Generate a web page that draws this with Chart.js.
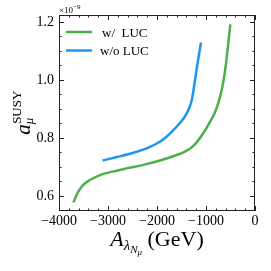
<!DOCTYPE html>
<html lang="en">
<head>
    <meta charset="UTF-8">
    <title>a_mu SUSY vs A_lambda</title>
    <script src="https://cdn.jsdelivr.net/npm/chart.js"></script>
    <style>
        body {
            margin: 0;
            padding: 0;
            background: #fff;
        }
        canvas {
            display: block;
        }
    </style>
</head>
<body>
    <canvas id="chart" width="271" height="271"></canvas>

    <script>
        // w/ LUC (green)
        const withLucX = [-3708, -3606, -3504, -3367, -3163, -2959, -2618, -2279, -1939, -1598, -1420, -1280, -1170, -1050, -930, -820, -740, -680, -635, -590, -545, -504];
        const withLucY = [0.577, 0.615, 0.638, 0.655, 0.672, 0.682, 0.695, 0.707, 0.722, 0.741, 0.754, 0.769, 0.789, 0.818, 0.852, 0.887, 0.925, 0.965, 1.005, 1.06, 1.125, 1.192];

        // w/o LUC (blue)
        const noLucX = [-3110, -2820, -2480, -2210, -1950, -1800, -1670, -1550, -1430, -1350, -1290, -1224, -1165, -1102];
        const noLucY = [0.722, 0.734, 0.749, 0.764, 0.786, 0.805, 0.826, 0.848, 0.874, 0.900, 0.931, 1.0, 1.065, 1.129];

        const seriesLabels = ['w/  LUC', 'w/o LUC'];
        const seriesColors = ['#4cb04a', '#1e96f0'];

        const xTicks = [-4000, -3000, -2000, -1000, 0];
        const yTicks = [0.6, 0.8, 1.0, 1.2];
        const xMinorStep = 200;
        const yMinorStep = 0.05;

        const serif = "'Liberation Serif', 'DejaVu Serif', serif";

        function toPoints(xs, ys) {
            return xs.map((x, i) => ({ x: x, y: ys[i] }));
        }

        // inward ticks on all four sides + full frame
        const frameTicks = {
            id: 'frameTicks',
            afterDraw(chart) {
                const { ctx, chartArea: a, scales } = chart;
                const xs = scales.x, ys = scales.y;
                ctx.save();
                ctx.strokeStyle = '#222';
                ctx.lineWidth = 1;
                ctx.strokeRect(a.left + 0.5, a.top + 0.5, a.right - a.left - 1, a.bottom - a.top - 1);
                ctx.beginPath();
                for (let v = xs.min; v <= xs.max + 1e-6; v += xMinorStep) {
                    const px = Math.round(xs.getPixelForValue(v)) + 0.5;
                    const major = xTicks.some(t => Math.abs(t - v) < 1e-6);
                    const len = major ? 5 : 2.5;
                    ctx.moveTo(px, a.bottom); ctx.lineTo(px, a.bottom - len);
                    ctx.moveTo(px, a.top); ctx.lineTo(px, a.top + len);
                }
                const yStart = Math.ceil(ys.min / yMinorStep - 1e-6) * yMinorStep;
                for (let v = yStart; v <= ys.max + 1e-6; v += yMinorStep) {
                    const py = Math.round(ys.getPixelForValue(v)) + 0.5;
                    const major = yTicks.some(t => Math.abs(t - v) < 1e-6);
                    const len = major ? 5 : 2.5;
                    ctx.moveTo(a.left, py); ctx.lineTo(a.left + len, py);
                    ctx.moveTo(a.right, py); ctx.lineTo(a.right - len, py);
                }
                ctx.stroke();
                ctx.restore();
            }
        };

        // legend, axis titles and offset text
        const labelsPlugin = {
            id: 'labelsPlugin',
            afterDraw(chart) {
                const { ctx, chartArea: a } = chart;
                ctx.save();
                ctx.fillStyle = '#000';
                ctx.textBaseline = 'alphabetic';

                // legend
                chart.data.datasets.forEach((ds, i) => {
                    const y = a.top + 17 + i * 18.5;
                    ctx.strokeStyle = ds.borderColor;
                    ctx.lineWidth = 2.5;
                    ctx.beginPath();
                    ctx.moveTo(a.left + 7, y);
                    ctx.lineTo(a.left + 33, y);
                    ctx.stroke();
                    ctx.font = '13px ' + serif;
                    ctx.textAlign = 'left';
                    ctx.fillText(ds.label, a.left + (i === 0 ? 43 : 41), y + 4.5);
                });

                // offset text  x10^-9
                ctx.font = '9px ' + serif;
                ctx.fillText('\u00d710', a.left, 13);
                const w10 = ctx.measureText('\u00d710').width;
                ctx.font = '7px ' + serif;
                ctx.fillText('\u22129', a.left + w10, 9);

                // x title:  A_{lambda_{N_mu}} (GeV)
                const parts = [
                    { t: 'A', f: 'italic 22px ', dy: 0 },
                    { t: '\u03bb', f: 'italic 15px ', dy: 4 },
                    { t: 'N', f: 'italic 11px ', dy: 7 },
                    { t: '\u03bc', f: 'italic 9px ', dy: 9 },
                    { t: ' (GeV)', f: '22px ', dy: 0 }
                ];
                let total = 0;
                parts.forEach(p => { ctx.font = p.f + serif; p.w = ctx.measureText(p.t).width; total += p.w; });
                let x = (a.left + a.right) / 2 - total / 2;
                const base = 246;
                parts.forEach(p => {
                    ctx.font = p.f + serif;
                    ctx.fillText(p.t, x, base + p.dy);
                    x += p.w;
                });

                // y title:  a_mu^SUSY (rotated)
                ctx.translate(30, (a.top + a.bottom) / 2);
                ctx.rotate(-Math.PI / 2);
                ctx.font = 'italic 21px ' + serif;
                const wa = ctx.measureText('a').width;
                ctx.font = '13px ' + serif;
                const ws = ctx.measureText('SUSY').width;
                const start = -(wa + ws) / 2;
                ctx.font = 'italic 21px ' + serif;
                ctx.fillText('a', start, 0);
                ctx.font = '13px ' + serif;
                ctx.fillText('SUSY', start + wa + 0.5, -9);
                ctx.font = 'italic 13px ' + serif;
                ctx.fillText('\u03bc', start + wa, 2.5);
                ctx.restore();
            }
        };

        new Chart(document.getElementById('chart'), {
            type: 'line',
            data: {
                datasets: [
                    {
                        label: seriesLabels[0],
                        data: toPoints(withLucX, withLucY),
                        borderColor: seriesColors[0],
                        borderWidth: 2.5,
                        pointRadius: 0,
                        cubicInterpolationMode: 'monotone',
                        fill: false
                    },
                    {
                        label: seriesLabels[1],
                        data: toPoints(noLucX, noLucY),
                        borderColor: seriesColors[1],
                        borderWidth: 2.5,
                        pointRadius: 0,
                        cubicInterpolationMode: 'monotone',
                        fill: false
                    }
                ]
            },
            options: {
                responsive: false,
                devicePixelRatio: 1,
                animation: false,
                layout: {
                    padding: { left: 0, top: 15, right: 16, bottom: 0 }
                },
                plugins: {
                    legend: { display: false },
                    tooltip: { enabled: false }
                },
                scales: {
                    x: {
                        type: 'linear',
                        min: -4000,
                        max: 0,
                        afterBuildTicks: s => { s.ticks = xTicks.map(v => ({ value: v })); },
                        afterFit: s => { s.height = 60; },
                        ticks: {
                            callback: v => (v < 0 ? '\u2212' + Math.abs(v) : String(v)),
                            font: { family: serif, size: 14 },
                            color: '#000',
                            padding: 2,
                            maxRotation: 0,
                            autoSkip: false
                        },
                        grid: { display: false, drawTicks: false },
                        border: { display: false }
                    },
                    y: {
                        type: 'linear',
                        min: 0.548,
                        max: 1.224,
                        afterBuildTicks: s => { s.ticks = yTicks.map(v => ({ value: v })); },
                        afterFit: s => { s.width = 59; },
                        ticks: {
                            callback: v => v.toFixed(1),
                            font: { family: serif, size: 14 },
                            color: '#000',
                            padding: 5,
                            autoSkip: false
                        },
                        grid: { display: false, drawTicks: false },
                        border: { display: false }
                    }
                }
            },
            plugins: [frameTicks, labelsPlugin]
        });
    </script>
</body>
</html>
